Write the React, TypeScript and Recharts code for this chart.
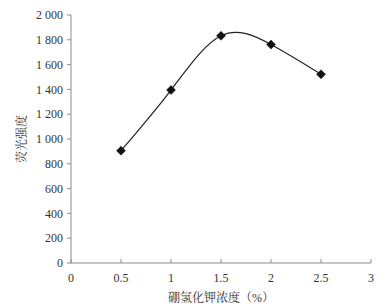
import React from 'react';
import { LineChart, Line, XAxis, YAxis, Label } from 'recharts';

const concentrations = [0.5, 1, 1.5, 2, 2.5];
const intensities = [906, 1395, 1832, 1762, 1522];
const xTicks = [0, 0.5, 1, 1.5, 2, 2.5, 3];
const yTicks = [0, 200, 400, 600, 800, 1000, 1200, 1400, 1600, 1800, 2000];

const data = concentrations.map((c, i) => ({ x: c, y: intensities[i] }));

const FONT = '"Liberation Serif", "Noto Serif CJK SC", "Noto Sans CJK SC", serif';
const AXIS = '#8c8c8c';
const TEXT = '#333333';

const fmtY = (v: number) => (v >= 1000 ? `${Math.floor(v / 1000)} ${String(v % 1000).padStart(3, '0')}` : String(v));

const Diamond = (props: any) => {
  const { cx, cy } = props;
  if (cx == null || cy == null) return null;
  const r = 4.5;
  return (
    <polygon
      points={`${cx},${cy - r} ${cx + r},${cy} ${cx},${cy + r} ${cx - r},${cy}`}
      fill="#111"
      stroke="#111"
      strokeWidth={0.5}
    />
  );
};

export default function App() {
  return (
    <div style={{ position: 'absolute', left: 0, top: 0, width: 386, height: 308, background: '#fff', fontFamily: FONT }}>
      <style>{`.recharts-wrapper text, .recharts-wrapper tspan { font-family: ${FONT}; }`}</style>
      <LineChart width={386} height={308} data={data} margin={{ top: 15, right: 15, bottom: 0, left: 0 }}>
        <XAxis
          dataKey="x"
          type="number"
          domain={[0, 3]}
          ticks={xTicks}
          height={45}
          stroke={AXIS}
          tickSize={-4}
          tickMargin={14}
          tick={{ fill: TEXT, fontSize: 12 }}
          interval={0}
        >
          <Label value="硼氢化钾浓度（%）" position="insideBottom" offset={6} style={{ fill: TEXT, fontSize: 12 }} />
        </XAxis>
        <YAxis
          type="number"
          domain={[0, 2000]}
          ticks={yTicks}
          width={71}
          stroke={AXIS}
          tickSize={4}
          tickMargin={4}
          tickFormatter={fmtY}
          tick={{ fill: TEXT, fontSize: 12 }}
          interval={0}
        >
          <Label value="荧光强度" angle={-90} position="insideLeft" offset={22} style={{ fill: TEXT, fontSize: 12, textAnchor: 'middle' }} />
        </YAxis>
        <Line
          type="natural"
          dataKey="y"
          stroke="#222"
          strokeWidth={1.2}
          dot={<Diamond />}
          activeDot={false}
          isAnimationActive={false}
        />
      </LineChart>
    </div>
  );
}
